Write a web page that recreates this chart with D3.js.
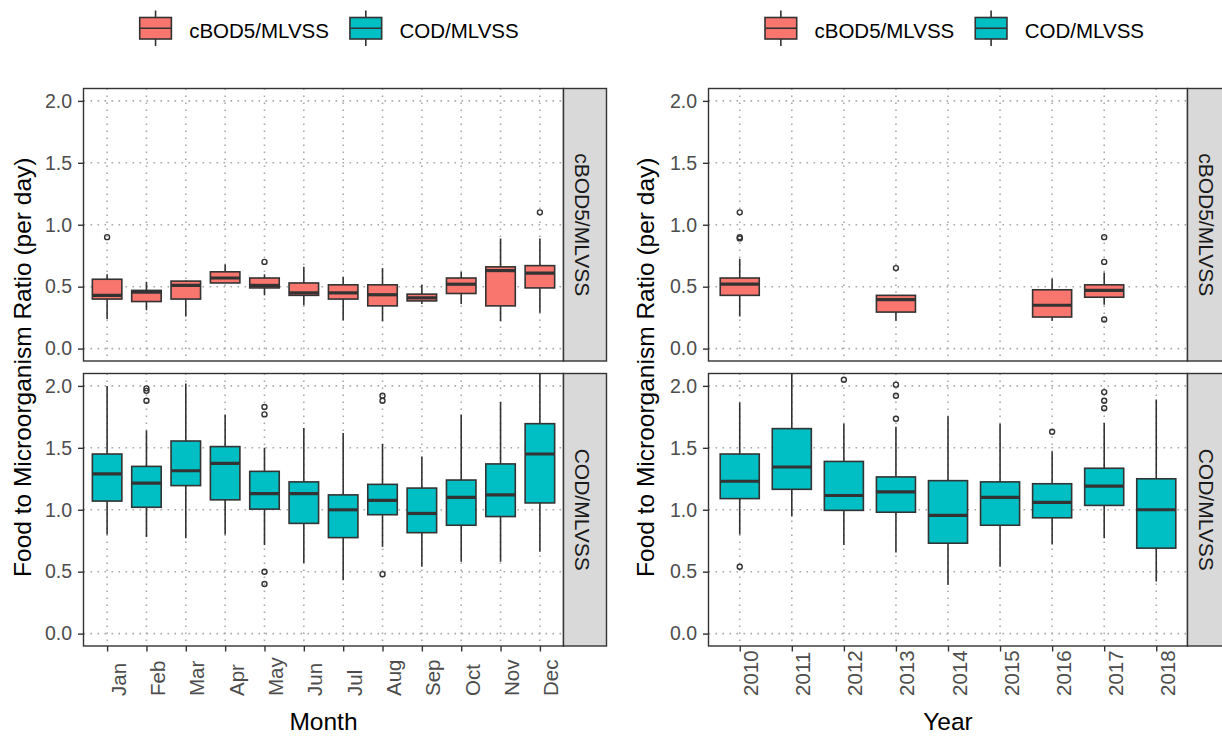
<!DOCTYPE html>
<html>
<head>
<meta charset="utf-8">
<script src="https://cdn.jsdelivr.net/npm/d3@7"></script>
<style>
  html, body { margin: 0; padding: 0; background: #ffffff; }
  svg { display: block; font-family: "Liberation Sans", Arial, sans-serif; }
</style>
</head>
<body>
<svg id="chart" width="1222" height="736"></svg>
<script>
// ---- data -------------------------------------------------------------
const seriesNames  = ["cBOD5/MLVSS", "COD/MLVSS"];
const seriesColors = ["#F8766D", "#00BFC4"];

const months = ["Jan", "Feb", "Mar", "Apr", "May", "Jun", "Jul", "Aug", "Sep", "Oct", "Nov", "Dec"];
const years  = ["2010", "2011", "2012", "2013", "2014", "2015", "2016", "2017", "2018"];
const yTicks = [0, 0.5, 1.0, 1.5, 2.0];

// box summaries: [lower whisker, Q1, median, Q3, upper whisker]
const bodByMonth = [
  [0.24, 0.40, 0.43, 0.56, 0.60],
  [0.31, 0.38, 0.455, 0.47, 0.54],
  [0.26, 0.40, 0.51, 0.545, 0.55],
  [0.53, 0.53, 0.57, 0.62, 0.68],
  [0.43, 0.49, 0.51, 0.57, 0.60],
  [0.35, 0.43, 0.45, 0.53, 0.66],
  [0.23, 0.40, 0.45, 0.515, 0.58],
  [0.22, 0.345, 0.435, 0.515, 0.65],
  [0.36, 0.385, 0.41, 0.44, 0.515],
  [0.36, 0.445, 0.52, 0.57, 0.62],
  [0.22, 0.345, 0.63, 0.66, 0.89],
  [0.29, 0.49, 0.61, 0.67, 0.89]
];
const bodByMonthOutliers = [[0.90], [], [], [], [0.70], [], [], [], [], [], [], [1.10]];

const codByMonth = [
  [0.80, 1.07, 1.29, 1.45, 2.00],
  [0.78, 1.02, 1.215, 1.35, 1.64],
  [0.77, 1.195, 1.315, 1.555, 2.02],
  [0.80, 1.08, 1.375, 1.51, 1.77],
  [0.715, 1.005, 1.13, 1.31, 1.50],
  [0.57, 0.89, 1.13, 1.225, 1.66],
  [0.43, 0.775, 1.00, 1.12, 1.62],
  [0.70, 0.96, 1.075, 1.205, 1.53],
  [0.54, 0.815, 0.97, 1.175, 1.43],
  [0.58, 0.875, 1.10, 1.24, 1.77],
  [0.58, 0.945, 1.12, 1.37, 1.87],
  [0.66, 1.055, 1.45, 1.695, 2.30]
];
const codByMonthOutliers = [
  [], [1.98, 1.96, 1.88], [], [], [1.83, 1.77, 0.50, 0.40], [], [],
  [1.92, 1.88, 0.48], [], [], [], []
];

const bodByYear = [
  [0.26, 0.43, 0.52, 0.57, 0.725],
  null,
  null,
  [0.225, 0.295, 0.395, 0.43, 0.43],
  null,
  null,
  [0.225, 0.255, 0.35, 0.475, 0.565],
  [0.355, 0.415, 0.47, 0.515, 0.615],
  null
];
const bodByYearOutliers = [[1.10, 0.90, 0.89], [], [], [0.65], [], [], [], [0.90, 0.70, 0.235], []];

const codByYear = [
  [0.80, 1.09, 1.23, 1.45, 1.865],
  [0.945, 1.165, 1.345, 1.655, 2.30],
  [0.715, 0.995, 1.115, 1.39, 1.695],
  [0.655, 0.98, 1.145, 1.265, 1.67],
  [0.395, 0.73, 0.955, 1.235, 1.755],
  [0.54, 0.875, 1.10, 1.225, 1.695],
  [0.72, 0.935, 1.06, 1.21, 1.47],
  [0.77, 1.035, 1.19, 1.335, 1.70],
  [0.42, 0.69, 1.00, 1.25, 1.89]
];
const codByYearOutliers = [[0.54], [], [2.05], [2.01, 1.92, 1.735], [], [], [1.63], [1.95, 1.88, 1.82], []];

// ---- layout -----------------------------------------------------------
const svg = d3.select("#chart");
svg.append("rect").attr("width", 1222).attr("height", 736).attr("fill", "#ffffff");

const INK = "#333333";
const rows = [{ y0: 88.5, y1: 361 }, { y0: 373.5, y1: 646 }];
const stripW = 43;

const plots = [
  {
    cats: months, x0: 83.5, x1: 563.5, xTitle: "Month", legendX: 139.7, yTitleX: 31,
    series: [
      { stats: bodByMonth, outliers: bodByMonthOutliers },
      { stats: codByMonth, outliers: codByMonthOutliers }
    ]
  },
  {
    cats: years, x0: 708.5, x1: 1187.5, xTitle: "Year", legendX: 765, yTitleX: 654,
    series: [
      { stats: bodByYear, outliers: bodByYearOutliers },
      { stats: codByYear, outliers: codByYearOutliers }
    ]
  }
];

let clipId = 0;

plots.forEach(p => {
  const x = d3.scalePoint().domain(p.cats).range([p.x0, p.x1]).padding(0.6);
  const boxW = x.step() * 0.75;

  p.series.forEach((s, si) => {
    const r = rows[si];
    const y = d3.scaleLinear().domain([-0.1, 2.1]).range([r.y1, r.y0]);
    const g = svg.append("g");

    // panel background
    g.append("rect")
      .attr("x", p.x0).attr("y", r.y0)
      .attr("width", p.x1 - p.x0).attr("height", r.y1 - r.y0)
      .attr("fill", "#ffffff");

    const cid = "panel-clip-" + (clipId++);
    svg.append("clipPath").attr("id", cid)
      .append("rect")
      .attr("x", p.x0).attr("y", r.y0)
      .attr("width", p.x1 - p.x0).attr("height", r.y1 - r.y0);

    const inner = g.append("g").attr("clip-path", `url(#${cid})`);

    // dotted grid
    inner.selectAll("line.hgrid").data(yTicks).join("line")
      .attr("x1", p.x0).attr("x2", p.x1)
      .attr("y1", d => y(d)).attr("y2", d => y(d))
      .attr("stroke", "#a8a8a8").attr("stroke-width", 1.6)
      .attr("stroke-dasharray", "1.6,5.4");
    inner.selectAll("line.vgrid").data(p.cats).join("line")
      .attr("x1", d => x(d)).attr("x2", d => x(d))
      .attr("y1", r.y0).attr("y2", r.y1)
      .attr("stroke", "#a8a8a8").attr("stroke-width", 1.6)
      .attr("stroke-dasharray", "1.6,5.4");

    // boxes
    const boxes = p.cats.map((c, i) => ({ cat: c, st: s.stats[i], out: s.outliers[i] }));
    boxes.forEach(b => {
      const cx = x(b.cat);
      // outliers
      inner.selectAll(null).data(b.out).join("circle")
        .attr("cx", cx).attr("cy", d => y(d)).attr("r", 2.5)
        .attr("fill", "none").attr("stroke", INK).attr("stroke-width", 1.4);
      if (!b.st) return;
      const [lo, q1, med, q3, hi] = b.st;
      inner.append("line")
        .attr("x1", cx).attr("x2", cx).attr("y1", y(hi)).attr("y2", y(q3))
        .attr("stroke", INK).attr("stroke-width", 1.6);
      inner.append("line")
        .attr("x1", cx).attr("x2", cx).attr("y1", y(q1)).attr("y2", y(lo))
        .attr("stroke", INK).attr("stroke-width", 1.6);
      inner.append("rect")
        .attr("x", cx - boxW / 2).attr("width", boxW)
        .attr("y", y(q3)).attr("height", y(q1) - y(q3))
        .attr("fill", seriesColors[si]).attr("stroke", INK).attr("stroke-width", 1.6);
      inner.append("line")
        .attr("x1", cx - boxW / 2).attr("x2", cx + boxW / 2)
        .attr("y1", y(med)).attr("y2", y(med))
        .attr("stroke", INK).attr("stroke-width", 3.2);
    });

    // panel border
    g.append("rect")
      .attr("x", p.x0).attr("y", r.y0)
      .attr("width", p.x1 - p.x0).attr("height", r.y1 - r.y0)
      .attr("fill", "none").attr("stroke", INK).attr("stroke-width", 1.4);

    // facet strip
    g.append("rect")
      .attr("x", p.x1).attr("y", r.y0)
      .attr("width", stripW).attr("height", r.y1 - r.y0)
      .attr("fill", "#d9d9d9").attr("stroke", INK).attr("stroke-width", 1.4);
    g.append("text")
      .attr("transform", `translate(${p.x1 + 18.5},${(r.y0 + r.y1) / 2}) rotate(90)`)
      .attr("text-anchor", "middle").attr("dominant-baseline", "central")
      .attr("font-size", 21).attr("fill", "#1a1a1a")
      .text(seriesNames[si]);

    // y axis
    const ya = g.append("g").attr("transform", `translate(${p.x0},0)`)
      .call(d3.axisLeft(y).tickValues(yTicks).tickFormat(d3.format(".1f")).tickSize(5.5).tickPadding(6));
    ya.select(".domain").remove();
    ya.selectAll(".tick line").attr("stroke", INK).attr("stroke-width", 1.4);
    ya.selectAll(".tick text").attr("font-size", 19.5).attr("fill", "#4d4d4d")
      .attr("font-family", "Liberation Sans, Arial, sans-serif");

    // x axis on the lower panel only
    if (si === 1) {
      const xa = g.append("g").attr("transform", `translate(0,${r.y1})`)
        .call(d3.axisBottom(x).tickSize(5.5));
      xa.select(".domain").remove();
      xa.selectAll(".tick line").attr("stroke", INK).attr("stroke-width", 1.4);
      xa.selectAll(".tick text")
        .attr("x", 0).attr("y", 0).attr("dy", null)
        .attr("transform", "translate(18,50) rotate(-90)")
        .attr("text-anchor", "start")
        .attr("font-size", 20.5).attr("fill", "#4d4d4d")
        .attr("font-family", "Liberation Sans, Arial, sans-serif");
    }
  });

  // axis titles
  svg.append("text")
    .attr("x", (p.x0 + p.x1) / 2).attr("y", 730)
    .attr("text-anchor", "middle").attr("font-size", 24.5).attr("fill", "#000")
    .text(p.xTitle);
  svg.append("text")
    .attr("transform", `translate(${p.yTitleX},${(rows[0].y0 + rows[1].y1) / 2}) rotate(-90)`)
    .attr("text-anchor", "middle").attr("font-size", 24.5).attr("fill", "#000")
    .text("Food to Microorganism Ratio (per day)");

  // legend
  const lg = svg.append("g").attr("transform", `translate(${p.legendX},0)`);
  let lx = 0;
  seriesNames.forEach((name, i) => {
    const kw = 31.7, kx = lx;
    lg.append("line").attr("x1", kx + kw / 2).attr("x2", kx + kw / 2)
      .attr("y1", 10.5).attr("y2", 46).attr("stroke", INK).attr("stroke-width", 1.6);
    lg.append("rect").attr("x", kx).attr("y", 17.5).attr("width", kw).attr("height", 21.5)
      .attr("fill", seriesColors[i]).attr("stroke", INK).attr("stroke-width", 1.6);
    lg.append("line").attr("x1", kx).attr("x2", kx + kw)
      .attr("y1", 28.25).attr("y2", 28.25).attr("stroke", INK).attr("stroke-width", 1.6);
    const t = lg.append("text").attr("x", kx + 49.5).attr("y", 37.5)
      .attr("font-size", 20.5).attr("fill", "#000").text(name);
    lx = kx + 49.5 + t.node().getComputedTextLength() + 21;
  });
});
</script>
</body>
</html>
